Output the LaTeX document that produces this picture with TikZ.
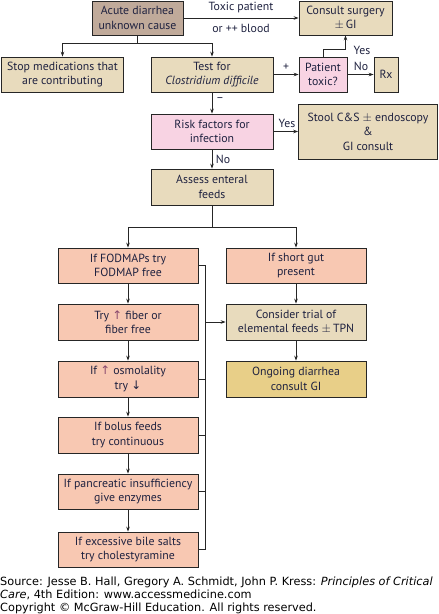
\documentclass[tikz,border=0pt]{standalone}
\usepackage{fontspec}
\setmainfont{PT Sans}
\newfontfamily\arrfont{DejaVu Sans}
\newfontfamily\srcfont{DejaVu Sans}
\usetikzlibrary{arrows.meta,calc}
\definecolor{txt}{HTML}{1F2240}
\definecolor{taupe}{HTML}{C0AA9A}
\definecolor{tan}{HTML}{E8DBBD}
\definecolor{pinkf}{HTML}{F8D3E3}
\definecolor{salmon}{HTML}{F8C8B2}
\definecolor{gold}{HTML}{E8CF88}
\definecolor{arrc}{HTML}{8A4A6E}
\newcommand{\up}{{\color{arrc}\arrfont\char"2191}}
\newcommand{\dn}{{\arrfont\char"2193}}
\tikzset{
  box/.style={draw=black!85, line width=0.8pt, align=center, inner sep=0pt,
    text=txt, font=\fontsize{11.8}{14.5}\selectfont, anchor=center},
  arr/.style={draw=black!85, line width=0.7pt, -{Stealth[length=5pt,width=3.6pt]}},
  ln/.style={draw=black!85, line width=0.7pt},
  lab/.style={text=txt, font=\fontsize{11.8}{14}\selectfont, inner sep=0pt}
}
\begin{document}
\begin{tikzpicture}[x=1pt,y=-1pt]
\useasboundingbox (0,0) rectangle (439,614);
% nodes
\node[box, fill=taupe, minimum width=91pt, minimum height=34pt] (acute) at (137.5,18) {Acute diarrhea\\unknown cause};
\node[box, fill=tan, minimum width=93pt, minimum height=34pt] (surg) at (345.5,18) {Consult surgery\\$\pm$\,GI};
\node[box, fill=tan, minimum width=122pt, minimum height=35pt] (stop) at (62.5,74.5) {Stop medications that\\are contributing};
\node[box, fill=tan, minimum width=122pt, minimum height=35pt] (test) at (212,74.5) {Test for\\\textit{Clostridium difficile}};
\node[box, fill=pinkf, minimum width=48pt, minimum height=35pt] (ptox) at (323,74.5) {Patient\\toxic?};
\node[box, fill=tan, minimum width=24pt, minimum height=35pt] (rx) at (386,74.5) {Rx};
\node[box, fill=pinkf, minimum width=122pt, minimum height=35pt] (risk) at (212,131.5) {Risk factors for\\infection};
\node[box, fill=tan, minimum width=139pt, minimum height=55pt] (stool) at (368,131.5) {Stool C\&S $\pm$ endoscopy\\\&\\GI consult};
\node[box, fill=tan, minimum width=122pt, minimum height=36pt] (assess) at (212,187) {Assess enteral\\feeds};
\node[box, fill=salmon, minimum width=140pt, minimum height=35pt] (fod) at (128,265.5) {If FODMAPs try\\FODMAP free};
\node[box, fill=salmon, minimum width=140pt, minimum height=35pt] (short) at (296,265.5) {If short gut\\present};
\node[box, fill=salmon, minimum width=140pt, minimum height=36pt] (fiber) at (128,322) {Try \up\ fiber or\\fiber free};
\node[box, fill=tan, minimum width=140pt, minimum height=36pt] (cons) at (296,322) {Consider trial of\\elemental feeds $\pm$\,TPN};
\node[box, fill=salmon, minimum width=140pt, minimum height=36pt] (osm) at (128,379) {If \up\ osmolality\\try \dn};
\node[box, fill=gold, minimum width=140pt, minimum height=36pt] (ongo) at (296,379) {Ongoing diarrhea\\consult GI};
\node[box, fill=salmon, minimum width=140pt, minimum height=36pt] (bolus) at (128,435) {If bolus feeds\\try continuous};
\node[box, fill=salmon, minimum width=140pt, minimum height=35pt] (panc) at (128,491.5) {If pancreatic insufficiency\\give enzymes};
\node[box, fill=salmon, minimum width=140pt, minimum height=35pt] (bile) at (128,549.5) {If excessive bile salts\\try cholestyramine};
% connectors
\draw[arr] (acute.east) -- (surg.west);
\node[lab] (l1) at (241,7.5) {Toxic patient};
\node[lab] (l2) at (241,28) {or ++ blood};
\coordinate (b1) at (137.5,43);
\draw[ln] (acute.south) -- (b1);
\draw[arr] (b1) -| (stop.north);
\draw[arr] (b1) -| (test.north);
\draw[arr] (test.east) -- (ptox.west);
\node[lab] (lp) at (286,67) {+};
\draw[arr] (ptox.east) -- (rx.west);
\node[lab] (lno) at (361,66) {No};
\coordinate (y1) at (323,49);
\draw[arr] (ptox.north) -- (y1) -| (surg.south);
\node[lab] (lyes) at (362,50) {Yes};
\draw[arr] (test.south) -- (risk.north);
\node[lab] (lm) at (220,100) {–};
\draw[arr] (risk.east) -- (stool.west);
\node[lab] (lyes2) at (287,123) {Yes};
\draw[arr] (risk.south) -- (assess.north);
\node[lab] (lno2) at (223,159) {No};
\coordinate (b2) at (212,227);
\draw[ln] (assess.south) -- (b2);
\draw[arr] (b2) -| (fod.north);
\draw[arr] (b2) -| (short.north);
\draw[arr] (fod.south) -- (fiber.north);
\draw[arr] (fiber.south) -- (osm.north);
\draw[arr] (osm.south) -- (bolus.north);
\draw[arr] (bolus.south) -- (panc.north);
\draw[arr] (panc.south) -- (bile.north);
\draw[arr] (short.south) -- (cons.north);
\draw[arr] (cons.south) -- (ongo.north);
\coordinate (bt) at (205,265.5);
\draw[ln] (fod.east) -- (bt) -- (bt |- bile.east) -- (bile.east);
\draw[ln] (osm.east) -- (osm.east -| bt);
\draw[ln] (bolus.east) -- (bolus.east -| bt);
\draw[ln] (panc.east) -- (panc.east -| bt);
\draw[arr] (bt |- cons.west) -- (cons.west);
% source
\node[anchor=west, inner sep=0pt, font=\srcfont\fontsize{11.3}{13}\selectfont, align=left, text=black] (src) at (0,595.5)
{Source: Jesse B. Hall, Gregory A. Schmidt, John P. Kress: \textit{Principles of Critical}\\
\textit{Care}, 4th Edition: www.accessmedicine.com\\
Copyright © McGraw-Hill Education. All rights reserved.};
\end{tikzpicture}
\end{document}
